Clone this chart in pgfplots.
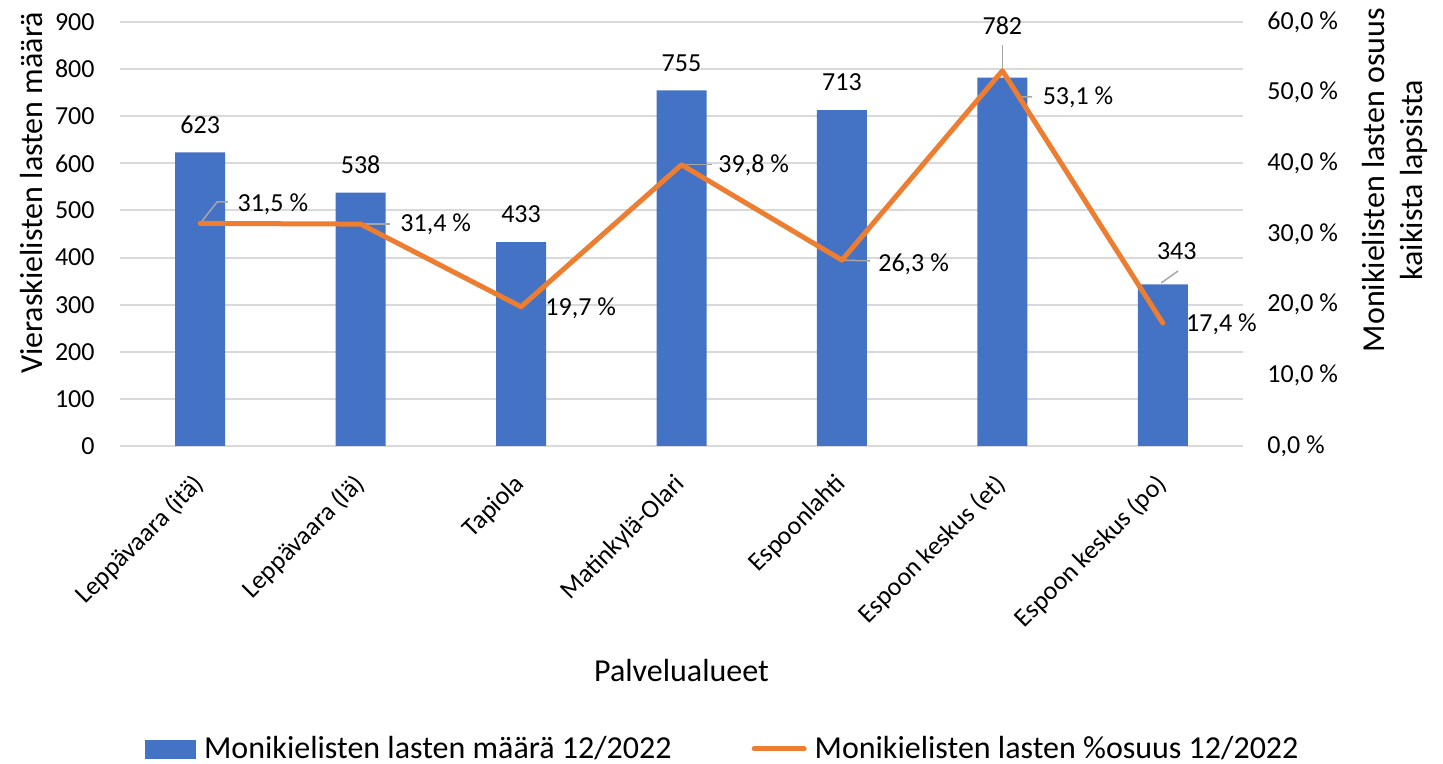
\documentclass[border=0pt]{standalone}
\usepackage{pgfplots}
\pgfplotsset{compat=1.18}
\usepackage{fontspec}
\setmainfont{Carlito}
\definecolor{barblue}{HTML}{4472C4}
\definecolor{lineorange}{HTML}{ED7D31}
\definecolor{gridgray}{HTML}{D9D9D9}
\definecolor{leadergray}{HTML}{A6A6A6}
\newcommand{\smallf}{\fontsize{13}{15.6}\selectfont}
\newcommand{\bigf}{\fontsize{16}{19.2}\selectfont}
\begin{document}
\begin{tikzpicture}
\pgfplotsset{
  common/.style={at={(60pt,159pt)}, anchor=south west, scale only axis,
    width=561.5pt, height=212pt, xmin=-0.5, xmax=6.5,
    axis line style={draw=none}, major tick length=0pt, tick style={draw=none},
    clip=false}
}
\begin{axis}[common, ymin=0, ymax=900,
  ytick={0,100,...,900},
  yticklabels={0,100,200,300,400,500,600,700,800,900},
  ymajorgrids, grid style={gridgray, line width=1pt},
  xtick={0,...,6},
  xticklabels={Leppävaara (itä),Leppävaara (lä),Tapiola,Matinkylä-Olari,Espoonlahti,Espoon keskus (et),Espoon keskus (po)},
  xticklabel style={font=\smallf, rotate=45, anchor=east, inner sep=0pt},
  xticklabel shift=17pt,
  yticklabel style={font=\smallf, anchor=east, inner sep=0pt},
  yticklabel shift=12.5pt,
  xlabel={Palvelualueet},
  xlabel style={font=\bigf, at={(axis description cs:0.5,-0.5566)}, anchor=base, inner sep=0pt},
  ylabel={Vieraskielisten lasten määrä},
  ylabel style={font=\bigf, at={(axis description cs:-0.0686,0.5967)}, anchor=base, inner sep=0pt},
]
\addplot[ybar, bar width=25pt, fill=barblue, draw=none] coordinates {(0,623) (1,538) (2,433) (3,755) (4,713) (5,782) (6,343)};
\node[font=\smallf, yshift=13.75pt] at (axis cs:0,623) {623};
\node[font=\smallf, yshift=13.75pt] at (axis cs:1,538) {538};
\node[font=\smallf, yshift=13.75pt] at (axis cs:2,433) {433};
\node[font=\smallf, yshift=13.75pt] at (axis cs:3,755) {755};
\node[font=\smallf, yshift=13.75pt] at (axis cs:4,713) {713};
\node[font=\smallf, yshift=25.8pt] at (axis cs:5,782) {782};
\node[font=\smallf, xshift=7pt, yshift=16.7pt] at (axis cs:6,343) {343};
\draw[leadergray, line width=0.75pt] (axis cs:5,798) -- (axis cs:5,851);
\draw[leadergray, line width=0.75pt] (axis cs:5.99,346) -- (axis cs:6.095,371.5);
\end{axis}
\begin{axis}[common, ymin=0, ymax=60, axis y line*=right, hide x axis,
  ytick={0,10,...,60},
  yticklabels={{0,0 \%},{10,0 \%},{20,0 \%},{30,0 \%},{40,0 \%},{50,0 \%},{60,0 \%}},
  yticklabel style={font=\smallf, anchor=west, inner sep=0pt},
  yticklabel shift=12pt,
  ylabel={Monikielisten lasten osuus\\kaikista lapsista},
  ylabel style={font=\bigf, align=center, at={(axis description cs:1.1353,0.627)}, anchor=center, inner sep=0pt},
  legend style={draw=none, fill=none, inner sep=0pt, legend columns=2, font=\bigf,
    at={(axis description cs:0.536,-0.7146)}, anchor=center,
    nodes={inner sep=0pt},
    /tikz/every odd column/.append style={column sep=4pt},
    /tikz/every even column/.append style={column sep=40pt}},
  legend cell align=left,
]
\addlegendimage{legend image code/.code={\fill[barblue] (0pt,-4.5pt) rectangle (25pt,4.5pt);}}
\addlegendentry{Monikielisten lasten määrä 12/2022}
\draw[leadergray, line width=0.75pt] (axis cs:0,31.5) -- (axis cs:0.105,34.53) -- (axis cs:0.173,34.53);
\draw[leadergray, line width=0.75pt] (axis cs:1,31.4) -- (axis cs:1.183,31.4);
\draw[leadergray, line width=0.75pt] (axis cs:3,39.8) -- (axis cs:3.19,39.8);
\draw[leadergray, line width=0.75pt] (axis cs:4,26.3) -- (axis cs:4.175,26.2);
\draw[leadergray, line width=0.75pt] (axis cs:5,53.1) -- (axis cs:5.110,49.39) -- (axis cs:5.185,49.39);
\addplot[lineorange, line width=2.5pt, line cap=round, line join=round,
  legend image code/.code={\draw[lineorange, line width=2.5pt, line cap=round] (0pt,0pt) -- (25pt,0pt);}]
  coordinates {(0,31.5) (1,31.4) (2,19.7) (3,39.8) (4,26.3) (5,53.1) (6,17.4)};
\addlegendentry{Monikielisten lasten \%osuus 12/2022}
\node[font=\smallf, anchor=west, inner sep=0pt, xshift=18.5pt, yshift=9.7pt] at (axis cs:0,31.5) {31,5 \%};
\node[font=\smallf, anchor=west, inner sep=0pt, xshift=19.7pt, yshift=0pt] at (axis cs:1,31.4) {31,4 \%};
\node[font=\smallf, anchor=west, inner sep=0pt, xshift=12pt, yshift=-1pt] at (axis cs:2,19.7) {19,7 \%};
\node[font=\smallf, anchor=west, inner sep=0pt, xshift=18.25pt, yshift=-0.5pt] at (axis cs:3,39.8) {39,8 \%};
\node[font=\smallf, anchor=west, inner sep=0pt, xshift=18pt, yshift=-2pt] at (axis cs:4,26.3) {26,3 \%};
\node[font=\smallf, anchor=west, inner sep=0pt, xshift=20pt, yshift=-13.5pt] at (axis cs:5,53.1) {53,1 \%};
\node[font=\smallf, anchor=west, inner sep=0pt, xshift=11.5pt, yshift=-0.5pt] at (axis cs:6,17.4) {17,4 \%};
\end{axis}
\pgfresetboundingbox
\useasboundingbox (0,0) rectangle (721.5pt,382pt);
\end{tikzpicture}
\end{document}
